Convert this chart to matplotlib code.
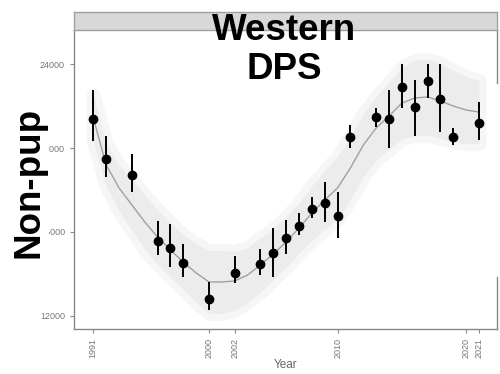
import matplotlib.pyplot as plt

plt.rcParams['font.family'] = ['Liberation Sans', 'DejaVu Sans']

# survey estimates (points with error bars)
pts_year = [1991, 1992, 1994, 1996, 1997, 1998, 2000, 2002, 2004, 2005, 2006, 2007,
            2008, 2009, 2010, 2011, 2013, 2014, 2015, 2016, 2017, 2018, 2019, 2021]
pts_val = [21380, 19480, 18710, 15570, 15240, 14520, 12810, 14050, 14480, 15000, 15710, 16290,
           17100, 17380, 16760, 20520, 21480, 21380, 22900, 21950, 23190, 22330, 20520, 21190]
pts_lo = [20330, 18620, 17900, 14900, 14330, 13860, 12290, 13570, 13950, 13860, 14950, 15860,
          16670, 16480, 15710, 20000, 21000, 20000, 21900, 20570, 22380, 20760, 20140, 20380]
pts_hi = [22760, 20570, 19710, 16520, 16380, 15430, 13620, 14860, 15190, 16190, 16570, 16900,
          17670, 18380, 17900, 21100, 21900, 22760, 24000, 23240, 24000, 24000, 20950, 22190]

# fitted trend and its ribbon
fit_year = list(range(1991, 2022))
fit_val = [21430, 19200, 18100, 17290, 16480, 15760, 15140, 14570, 14050, 13620, 13620,
           13670, 13950, 14430, 14950, 15520, 16190, 16900, 17520, 18100, 19050, 20140,
           20950, 21520, 22140, 22380, 22430, 22240, 22000, 21810, 21710]
fit_lo = [20330, 18200, 17000, 16090, 15180, 14460, 13840, 13270, 12650, 12120, 12120,
          12270, 12650, 13130, 13750, 14320, 14990, 15600, 16120, 16600, 17550, 18640,
          19450, 19920, 20440, 20580, 20630, 20440, 20300, 20210, 20210]
fit_hi = [22530, 20200, 19200, 18490, 17780, 17060, 16440, 15870, 15450, 15120, 15120,
          15070, 15250, 15730, 16150, 16720, 17390, 18200, 18920, 19600, 20550, 21640,
          22450, 23120, 23840, 24180, 24230, 24040, 23700, 23410, 23210]

xticks = [1991, 2000, 2002, 2010, 2020, 2021]
yticks = [12000, 16000, 20000, 24000]

fig = plt.figure(figsize=(5, 3.74), dpi=100)
ax = fig.add_axes([0.148, 0.1203, 0.846, 0.7995])

# soft-edged ribbon
ax.fill_between(fit_year, fit_lo, fit_hi, color='#f2f2f2', lw=10, edgecolor='#f6f6f6', zorder=1)
ax.fill_between(fit_year, fit_lo, fit_hi, color='#ececec', lw=0, zorder=1)
ax.plot(fit_year, fit_val, color='#a0a0a0', lw=1, zorder=2)

yerr = [[v - l for v, l in zip(pts_val, pts_lo)], [h - v for v, h in zip(pts_val, pts_hi)]]
ax.errorbar(pts_year, pts_val, yerr=yerr, fmt='o', color='black', ms=6,
            elinewidth=1.4, capsize=0, zorder=3)

ax.set_xlim(1989.5, 2022.4)
ax.set_ylim(11380, 25620)
ax.set_xticks(xticks)
ax.set_xticklabels([str(x) for x in xticks], rotation=90)
ax.set_yticks(yticks)
ax.set_yticklabels([str(y) for y in yticks])
ax.tick_params(colors='#888888', labelcolor='#777777', labelsize=6.5, length=3, width=0.8)
ax.set_xlabel('Year', color='#666666', fontsize=8.5, labelpad=1)

for s in ['top', 'right']:
    ax.spines[s].set_visible(False)
for s in ['left', 'bottom']:
    ax.spines[s].set_color('#888888')
    ax.spines[s].set_linewidth(1)
# right border only partly visible
ax.plot([1, 1], [0, 0.174], transform=ax.transAxes, color='#888888', lw=1, clip_on=False)
ax.plot([1, 1], [0.823, 1], transform=ax.transAxes, color='#888888', lw=1, clip_on=False)

# facet strip
strip = fig.add_axes([0.148, 0.9198, 0.846, 0.048])
strip.set_facecolor('#d8d8d8')
strip.set_xticks([])
strip.set_yticks([])
for s in strip.spines.values():
    s.set_color('#a0a0a0')
    s.set_linewidth(1)

fig.text(0.568, 1 - 13 / 374, 'Western\nDPS', ha='center', va='top', fontsize=26.5,
         fontweight='bold', linespacing=1.15)
fig.text(0.058, 1 - 182 / 374, 'Non-pup', rotation=90, ha='center', va='center',
         fontsize=26.5, fontweight='bold',
         bbox=dict(facecolor='white', edgecolor='none', pad=2))

plt.savefig('out.png', dpi=100)
